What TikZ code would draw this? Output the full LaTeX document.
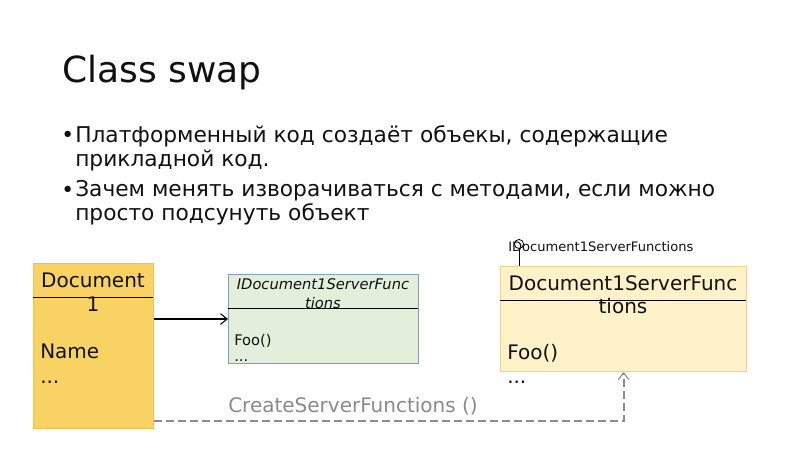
\documentclass[tikz,border=0pt]{standalone}
\usepackage{fontspec}
\setmainfont{DejaVu Sans}
\usetikzlibrary{arrows.meta,positioning,calc}
\definecolor{cInk}{HTML}{111111}
\definecolor{cDoc}{HTML}{F9D264}
\definecolor{cDocLine}{HTML}{EBC350}
\definecolor{cIfc}{HTML}{E2EFDB}
\definecolor{cIfcLine}{HTML}{7F9EBC}
\definecolor{cImpl}{HTML}{FFF2C8}
\definecolor{cImplLine}{HTML}{EAD58A}
\definecolor{cGray}{HTML}{8A8A8A}
\tikzset{
  ubox/.style={draw=#1Line,fill=#1,line width=0.8pt,inner sep=0pt,anchor=north west},
  sep/.style={draw=#1,line width=0.7pt},
  txt/.style={inner sep=0pt,anchor=base west,text=cInk},
  ctxt/.style={inner sep=0pt,anchor=base,align=center,text=cInk},
  arr/.style={-{Straight Barb[length=5pt,width=8pt,line width=0.8pt]},line width=1.6pt,color=black},
  darr/.style={-{Straight Barb[length=5pt,width=8pt,line width=0.8pt]},line width=1.5pt,color=cGray,dash pattern=on 6pt off 3pt},
}

\begin{document}
\begin{tikzpicture}[x=0.75pt,y=-0.75pt]
        \useasboundingbox[fill=white] (0,0) rectangle (800,449);
        % title and bullets
        \node[txt,font=\fontsize{27}{32}\selectfont] (title) at (62,83) {Class swap};
        \node[txt,font=\fontsize{16.3}{18}\selectfont] (dot1) at (61,143) {•};
        \node[txt,font=\fontsize{16.3}{18}\selectfont,align=left] (item1) at (75,167) {Платформенный код создаёт объекы, содержащие\\прикладной код.};
        \node[txt,font=\fontsize{16.3}{18}\selectfont] (dot2) at (61,198) {•};
        \node[txt,font=\fontsize{16.3}{18}\selectfont,align=left] (item2) at (75,221) {Зачем менять изворачиваться с методами, если можно\\просто подсунуть объект};
        % classes
        \node[ubox=cDoc,minimum width=90pt,minimum height=123.75pt] (doc) at (33,263) {};
        \node[ubox=cIfc,minimum width=142.5pt,minimum height=66.75pt] (ifc) at (228,274) {};
        \node[ubox=cImpl,minimum width=184.5pt,minimum height=78.75pt] (impl) at (500,266) {};
        \draw[sep=black] (doc.north west) ++(0,34) -- ++(120,0);
        \draw[sep=black] (ifc.north west) ++(0,34) -- ++(190,0);
        \draw[sep=black] (impl.north west) ++(0,34) -- ++(246,0);
        \node[ctxt,font=\fontsize{15}{18}\selectfont] (docname) at (93,311) {Document\\1};
        \node[txt,font=\fontsize{15}{18}\selectfont] (docattr) at (40,358) {Name};
        \node[txt,font=\fontsize{15}{18}\selectfont] (docmore) at (40,383) {...};
        \node[ctxt,font=\fontsize{11}{14}\selectfont\itshape] (ifcname) at (323,308) {IDocument1ServerFunc\\tions};
        \node[txt,font=\fontsize{11}{12}\selectfont] (ifcop) at (234,345) {Foo()};
        \node[txt,font=\fontsize{11}{12}\selectfont] (ifcmore) at (234,361) {...};
        \node[ctxt,font=\fontsize{15}{17}\selectfont] (implname) at (623,313) {Document1ServerFunc\\tions};
        \node[txt,font=\fontsize{15}{18}\selectfont] (implop) at (507,359) {Foo()};
        \node[txt,font=\fontsize{15}{18}\selectfont] (implmore) at (507,383) {...};
        % lollipop
        \node[txt,font=\fontsize{9.8}{12}\selectfont] (lollyname) at (508,252) {IDocument1ServerFunctions};
        \coordinate (lolly) at (519,244);
        \draw[line width=0.6pt] (impl.north west) ++(19,0) -- ($(lolly)+(0,4.5)$);
        \draw[line width=0.6pt] (lolly) circle[radius=3.4pt];
        % connectors
        \draw[arr] (doc.east |- ifc.west) -- (ifc.west);
        \draw[darr] (doc.south east) ++(0,-8) -| (impl.south);
        \node[txt,font=\fontsize{15}{18}\selectfont,text=cGray] (call) at (228,412) {CreateServerFunctions ()};
      \end{tikzpicture}
\end{document}
